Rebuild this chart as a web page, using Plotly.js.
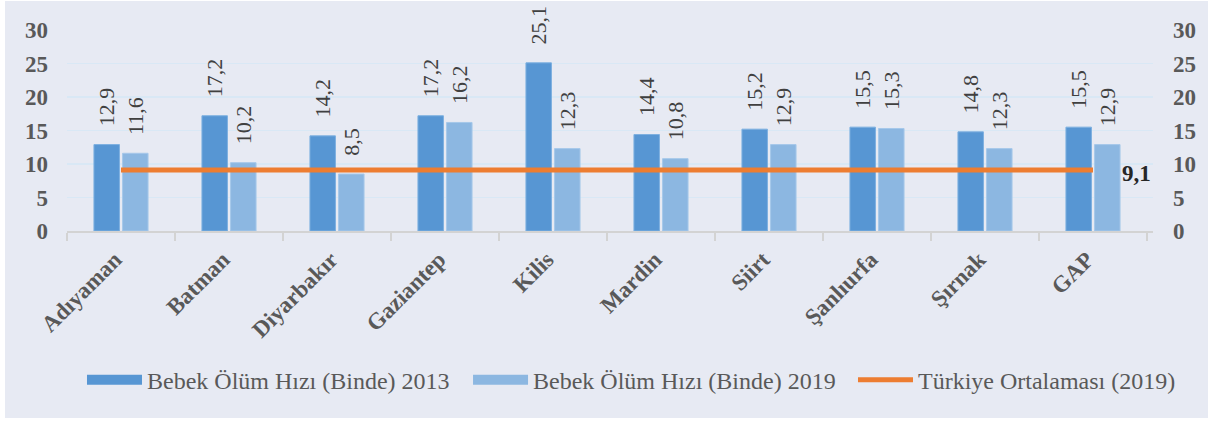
<!DOCTYPE html>
<html>
<head>
<meta charset="utf-8">
<script src="https://cdn.plot.ly/plotly-3.0.1.min.js"></script>
<style>
  html, body { margin: 0; padding: 0; background: #ffffff; }
  #chart { position: absolute; left: 5px; top: 1px; width: 1203px; height: 417px; }
</style>
</head>
<body>
<div id="chart"></div>
<script>
const categories = ['Adıyaman', 'Batman', 'Diyarbakır', 'Gaziantep', 'Kilis', 'Mardin', 'Siirt', 'Şanlıurfa', 'Şırnak', 'GAP'];
const rate2013 = [12.9, 17.2, 14.2, 17.2, 25.1, 14.4, 15.2, 15.5, 14.8, 15.5];
const rate2019 = [11.6, 10.2, 8.5, 16.2, 12.3, 10.8, 12.9, 15.3, 12.3, 12.9];
const turkeyAvg = [9.1, 9.1, 9.1, 9.1, 9.1, 9.1, 9.1, 9.1, 9.1, 9.1];
const seriesNames = ['Bebek Ölüm Hızı (Binde) 2013', 'Bebek Ölüm Hızı (Binde) 2019', 'Türkiye Ortalaması (2019)'];
const yTicks = [0, 5, 10, 15, 20, 25, 30];

const serif = '"Liberation Serif", "Times New Roman", serif';
const labelFont = {family: serif, size: 22, color: '#404040'};
const pad = '\u00a0\u00a0\u2009';
const color2013 = '#5796D3';
const color2019 = '#8CB7E1';
const noValues = categories.map(() => null);

const traces = [
  {
    type: 'bar', name: seriesNames[0], x: categories, y: rate2013, showlegend: false,
    marker: {color: color2013, line: {color: '#7DB0E0', width: 1}},
    texttemplate: pad + '%{y:.1f}', textposition: 'outside', textangle: -90,
    constraintext: 'none',
    textfont: labelFont, cliponaxis: false, hoverinfo: 'x+y'
  },
  {
    type: 'bar', name: seriesNames[1], x: categories, y: rate2019, showlegend: false,
    marker: {color: color2019, line: {color: '#A6C8EA', width: 1}},
    texttemplate: pad + '%{y:.1f}', textposition: 'outside', textangle: -90,
    constraintext: 'none',
    textfont: labelFont, cliponaxis: false, hoverinfo: 'x+y'
  },
  {
    type: 'scatter', mode: 'lines', name: seriesNames[2], x: categories, y: turkeyAvg,
    yaxis: 'y2', line: {color: '#ED7D31', width: 5}, cliponaxis: false, legend: 'legend3'
  },
  // legend swatches for the bar series (wide rectangles as in the reference)
  {
    type: 'scatter', mode: 'lines', name: seriesNames[0], x: categories, y: noValues,
    line: {color: color2013, width: 12}, legend: 'legend', hoverinfo: 'skip'
  },
  {
    type: 'scatter', mode: 'lines', name: seriesNames[1], x: categories, y: noValues,
    line: {color: color2019, width: 12}, legend: 'legend2', hoverinfo: 'skip'
  }
];

const lastIdx = categories.length - 1;

function legendAt(x) {
  return {
    orientation: 'h', xref: 'container', yref: 'container',
    x: x, xanchor: 'left', y: 0.091, yanchor: 'middle',
    font: {family: serif, size: 24, color: '#595959'},
    bgcolor: 'rgba(0,0,0,0)', itemwidth: 55
  };
}

const layout = {
  width: 1203, height: 417,
  paper_bgcolor: '#E7EAF3', plot_bgcolor: '#E7EAF3',
  margin: {l: 62, r: 55, t: 29, b: 187, autoexpand: false},
  separators: ',.',
  barmode: 'group', bargap: 0.47, bargroupgap: 0.11,
  showlegend: true,
  font: {family: serif, color: '#595959'},
  xaxis: {
    type: 'category', tickangle: -45,
    tickfont: {family: serif, size: 23, color: '#595959', weight: 'bold'},
    showline: true, linecolor: '#D3D3D3', linewidth: 2,
    ticks: 'outside', tickson: 'boundaries', ticklen: 8, tickcolor: '#D3D3D3', tickwidth: 2,
    ticklabelstandoff: 4, ticklabelshift: -6,
    showgrid: false, fixedrange: true
  },
  yaxis: {
    range: [0, 30], tickvals: yTicks, ticktext: yTicks.map(String),
    tickfont: {family: serif, size: 23, color: '#595959', weight: 'bold'},
    showgrid: true, gridcolor: '#D9E8F5', gridwidth: 1.5,
    zeroline: false, showline: false, ticks: '', ticklabelstandoff: 18,
    fixedrange: true
  },
  yaxis2: {
    range: [0, 30], tickvals: yTicks, ticktext: yTicks.map(String),
    overlaying: 'y', side: 'right',
    tickfont: {family: serif, size: 23, color: '#595959', weight: 'bold'},
    showgrid: false, zeroline: false, showline: false, ticks: '', ticklabelstandoff: 19,
    fixedrange: true
  },
  legend: legendAt(0.0640),
  legend2: legendAt(0.3849),
  legend3: legendAt(0.7049),
  annotations: [{
    x: categories[lastIdx], y: turkeyAvg[lastIdx], xref: 'x', yref: 'y2',
    text: '<b>' + turkeyAvg[lastIdx].toFixed(1).replace('.', ',') + '</b>',
    showarrow: false, xanchor: 'left', yanchor: 'middle', xshift: 27, yshift: -3,
    font: {family: serif, size: 23, color: '#262626'}
  }]
};

Plotly.newPlot('chart', traces, layout, {displayModeBar: false, staticPlot: true});
</script>
</body>
</html>
